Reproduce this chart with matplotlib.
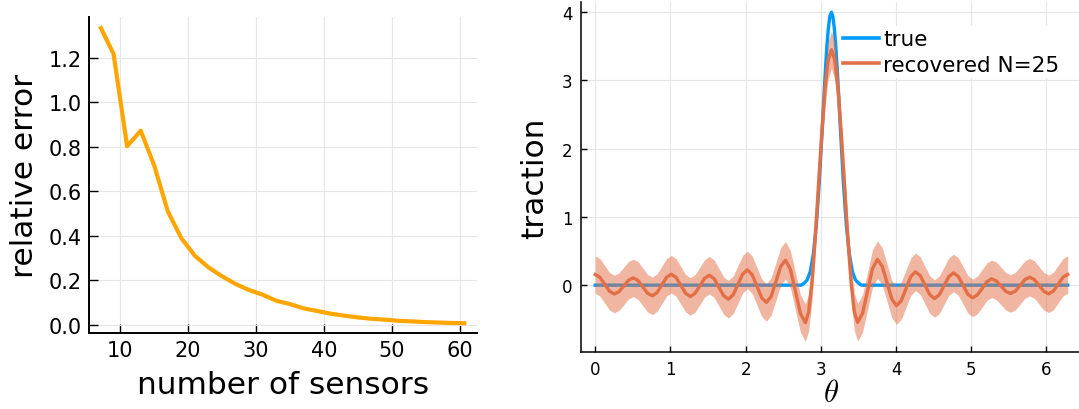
import matplotlib
matplotlib.use("Agg")
import matplotlib.pyplot as plt

# ---------------- data: left panel ----------------
n_sensors = [7, 9, 11, 13, 15, 17, 19, 21, 23, 25, 27, 29, 31, 33, 35, 37, 39,
             41, 43, 45, 47, 49, 51, 53, 55, 57, 59, 61]
rel_error = [1.343, 1.218, 0.803, 0.873, 0.716, 0.510, 0.389, 0.310, 0.258,
             0.218, 0.183, 0.156, 0.135, 0.108, 0.093, 0.074, 0.062, 0.050,
             0.041, 0.033, 0.027, 0.023, 0.018, 0.015, 0.012, 0.010, 0.008,
             0.007]

# ---------------- data: right panel ----------------
theta_true = [0.0, 2.74, 2.78, 2.82, 2.86, 2.90, 2.94, 2.98, 3.02, 3.04, 3.06,
              3.08, 3.10, 3.12, 3.1416, 3.16, 3.18, 3.20, 3.22, 3.24, 3.26,
              3.30, 3.34, 3.38, 3.42, 3.46, 3.50, 3.54, 6.2832]
traction_true = [0.0, 0.0, 0.03, 0.08, 0.20, 0.45, 0.87, 1.51, 2.31, 2.73,
                 3.13, 3.49, 3.76, 3.94, 4.0, 3.94, 3.76, 3.49, 3.13, 2.73,
                 2.31, 1.51, 0.87, 0.45, 0.20, 0.08, 0.03, 0.0, 0.0]

theta_rec = [0.000, 0.063, 0.127, 0.190, 0.253, 0.316, 0.380, 0.443, 0.506,
             0.569, 0.633, 0.696, 0.759, 0.822, 0.886, 0.949, 1.012, 1.075,
             1.139, 1.202, 1.265, 1.328, 1.392, 1.455, 1.518, 1.581, 1.645,
             1.708, 1.771, 1.834, 1.898, 1.961, 2.024, 2.087, 2.151, 2.214,
             2.277, 2.340, 2.404, 2.467, 2.530, 2.596, 2.663, 2.729, 2.795,
             2.838, 2.882, 2.925, 2.968, 3.012, 3.055, 3.098, 3.1416, 3.185,
             3.229, 3.272, 3.316, 3.359, 3.403, 3.446, 3.490, 3.556, 3.622,
             3.687, 3.753, 3.816, 3.880, 3.943, 4.006, 4.069, 4.133, 4.196,
             4.259, 4.322, 4.386, 4.449, 4.512, 4.575, 4.639, 4.702, 4.765,
             4.828, 4.892, 4.955, 5.018, 5.081, 5.145, 5.208, 5.271, 5.334,
             5.398, 5.461, 5.524, 5.587, 5.651, 5.714, 5.777, 5.840, 5.904,
             5.967, 6.030, 6.093, 6.157, 6.220, 6.283]
traction_rec = [0.156, 0.114, 0.013, -0.088, -0.130, -0.095, -0.012, 0.072,
                0.107, 0.069, -0.025, -0.118, -0.156, -0.110, 0.003, 0.115,
                0.161, 0.113, -0.003, -0.118, -0.166, -0.120, -0.010, 0.100,
                0.146, 0.095, -0.030, -0.154, -0.205, -0.142, 0.010, 0.161,
                0.224, 0.154, -0.015, -0.184, -0.254, -0.164, 0.056, 0.275,
                0.366, 0.232, -0.092, -0.416, -0.550, -0.398, 0.034, 0.686,
                1.450, 2.214, 2.866, 3.298, 3.450, 3.298, 2.867, 2.216, 1.452,
                0.689, 0.038, -0.393, -0.545, -0.410, -0.084, 0.242, 0.377,
                0.278, 0.039, -0.201, -0.300, -0.228, -0.052, 0.124, 0.196,
                0.139, 0.000, -0.139, -0.196, -0.141, -0.008, 0.125, 0.180,
                0.127, -0.003, -0.133, -0.186, -0.145, -0.047, 0.052, 0.093,
                0.062, -0.015, -0.091, -0.122, -0.087, -0.003, 0.082, 0.117,
                0.081, -0.005, -0.091, -0.127, -0.086, 0.015, 0.116, 0.157]
band_halfwidth = 0.275

left_xticks = [10, 20, 30, 40, 50, 60]
left_yticks = [0.0, 0.2, 0.4, 0.6, 0.8, 1.0, 1.2]
right_xticks = [0, 1, 2, 3, 4, 5, 6]
right_yticks = [0, 1, 2, 3, 4]

# ---------------- figure ----------------
W, H = 1079, 410
fig = plt.figure(figsize=(W / 100, H / 100), dpi=100)
plt.rcParams['mathtext.fontset'] = 'cm'

def px_axes(x0, x1, y0, y1):
    return fig.add_axes([x0 / W, 1 - y1 / H, (x1 - x0) / W, (y1 - y0) / H])

grid_col = '#e6e6e6'

# Left panel
ax1 = px_axes(89, 477.3, 18.3, 334)
ax1.plot(n_sensors, rel_error, color='#FFA500', lw=3.0, solid_capstyle='butt')
ax1.set_xlim(5.38, 62.62)
ax1.set_ylim(-0.037, 1.383)
ax1.set_xticks(left_xticks)
ax1.set_yticks(left_yticks)
ax1.set_yticklabels([f"{v:.1f}" for v in left_yticks])
ax1.tick_params(direction='in', length=6.5, width=1.0, labelsize=15, pad=5)
ax1.grid(True, color=grid_col, lw=0.8)
ax1.set_axisbelow(True)
for s in ['top', 'right']:
    ax1.spines[s].set_visible(False)
for s in ['left', 'bottom']:
    ax1.spines[s].set_linewidth(1.4)
ax1.set_xlabel('number of sensors', fontsize=22.5, labelpad=7)
ax1.set_ylabel('relative error', fontsize=22.5, labelpad=7)

# Right panel
ax2 = px_axes(581, 1081.9, 3.3, 352.7)
ax2.plot(theta_true, traction_true, color='#009AFA', lw=2.4, label='true',
         zorder=2)
lower = [v - band_halfwidth for v in traction_rec]
upper = [v + band_halfwidth for v in traction_rec]
ax2.fill_between(theta_rec, lower, upper, color='#E36F47', alpha=0.5,
                 lw=0, zorder=3)
ax2.plot(theta_rec, traction_rec, color='#E36F47', lw=2.4,
         label='recovered N=25', zorder=4)
ax2.set_xlim(-0.1885, 6.4717)
ax2.set_ylim(-0.975, 4.145)
ax2.set_xticks(right_xticks)
ax2.set_yticks(right_yticks)
ax2.tick_params(direction='in', length=4.5, width=1.0, labelsize=12, pad=6)
ax2.grid(True, color=grid_col, lw=0.8)
ax2.set_axisbelow(True)
for s in ['top', 'right']:
    ax2.spines[s].set_visible(False)
for s in ['left', 'bottom']:
    ax2.spines[s].set_linewidth(1.1)
ax2.set_xlabel(r'$\theta$', fontsize=22, labelpad=0)
ax2.set_ylabel('traction', fontsize=22.5, labelpad=9)

leg = ax2.legend(loc='upper left', bbox_to_anchor=(840 / W, 1 - 27 / H),
                 bbox_transform=fig.transFigure, fontsize=15.5, frameon=True,
                 facecolor='white', edgecolor='none', framealpha=1.0,
                 fancybox=False, borderpad=0.15, handlelength=1.65,
                 handletextpad=0.2, labelspacing=0.25, borderaxespad=0)
for line in leg.get_lines():
    line.set_linewidth(2.6)

fig.savefig('out.png', dpi=100)
